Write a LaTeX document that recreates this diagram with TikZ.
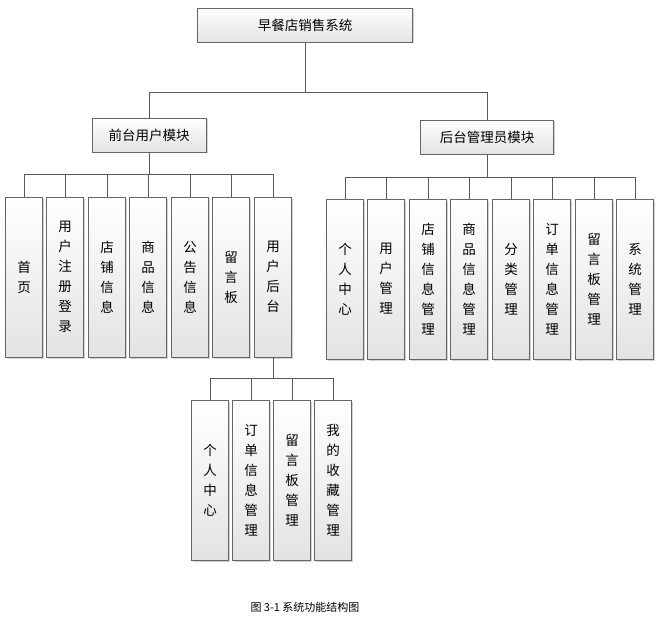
\documentclass[tikz,border=0pt]{standalone}
\usepackage{fontspec}
\newfontfamily\cjk{Noto Sans CJK SC}
\usetikzlibrary{shadows}
\tikzset{
    box/.style={draw=gray!80!black, top color=white, bottom color=gray!22, drop shadow={shadow xshift=1.5pt, shadow yshift=-1.5pt, opacity=0.35}, font=\cjk\fontsize{13.5}{20}\selectfont, align=center, inner sep=0pt}, % 方框样式
    wide/.style={box, minimum width=#1, minimum height=34pt},
    tall/.style={box, minimum width=37pt, minimum height=160pt},
    link/.style={draw=gray!70!black, line width=0.8pt}
}

\begin{document}
\begin{tikzpicture}[x=1pt, y=-1pt]
            \useasboundingbox (0,0) rectangle (657,618);
            
            \node[wide=215pt] (root) at (305,25) {早餐店销售系统};
            \node[wide=114pt] (front) at (149,135) {前台用户模块};
            \node[wide=133pt] (back) at (487,137) {后台管理员模块};
            \draw[link] (root.south) -- (305,92) -| (front.north);
            \draw[link] (305,92) -| (back.north);
            
            % 前台
            \foreach \x/\t [count=\i] in {24/{首\\页}, 65/{用\\户\\注\\册\\登\\录}, 107/{店\\铺\\信\\息}, 148/{商\\品\\信\\息}, 190/{公\\告\\信\\息}, 231/{留\\言\\板}, 273/{用\\户\\后\\台}} {
                \node[tall] (f\i) at (\x,277) {\t};
                \draw[link] (front.south) |- (\x,174) -- (f\i.north);
            }
            
            % 后台
            \foreach \x/\t [count=\i] in {345/{个\\人\\中\\心}, 386/{用\\户\\管\\理}, 428/{店\\铺\\信\\息\\管\\理}, 469/{商\\品\\信\\息\\管\\理}, 511/{分\\类\\管\\理}, 552/{订\\单\\信\\息\\管\\理}, 594/{留\\言\\板\\管\\理}, 635/{系\\统\\管\\理}} {
                \node[tall] (b\i) at (\x,279) {\t};
                \draw[link] (back.south) |- (\x,177) -- (b\i.north);
            }
            
            % 用户后台
            \foreach \x/\t [count=\i] in {210/{个\\人\\中\\心}, 251/{订\\单\\信\\息\\管\\理}, 292/{留\\言\\板\\管\\理}, 333/{我\\的\\收\\藏\\管\\理}} {
                \node[tall] (u\i) at (\x,480) {\t};
                \draw[link] (f7.south) |- (\x,378) -- (u\i.north);
            }
            
            \node[font=\cjk\fontsize{11}{13}\selectfont] (caption) at (305,607) {图 3-1 系统功能结构图};
        \end{tikzpicture}
\end{document}
